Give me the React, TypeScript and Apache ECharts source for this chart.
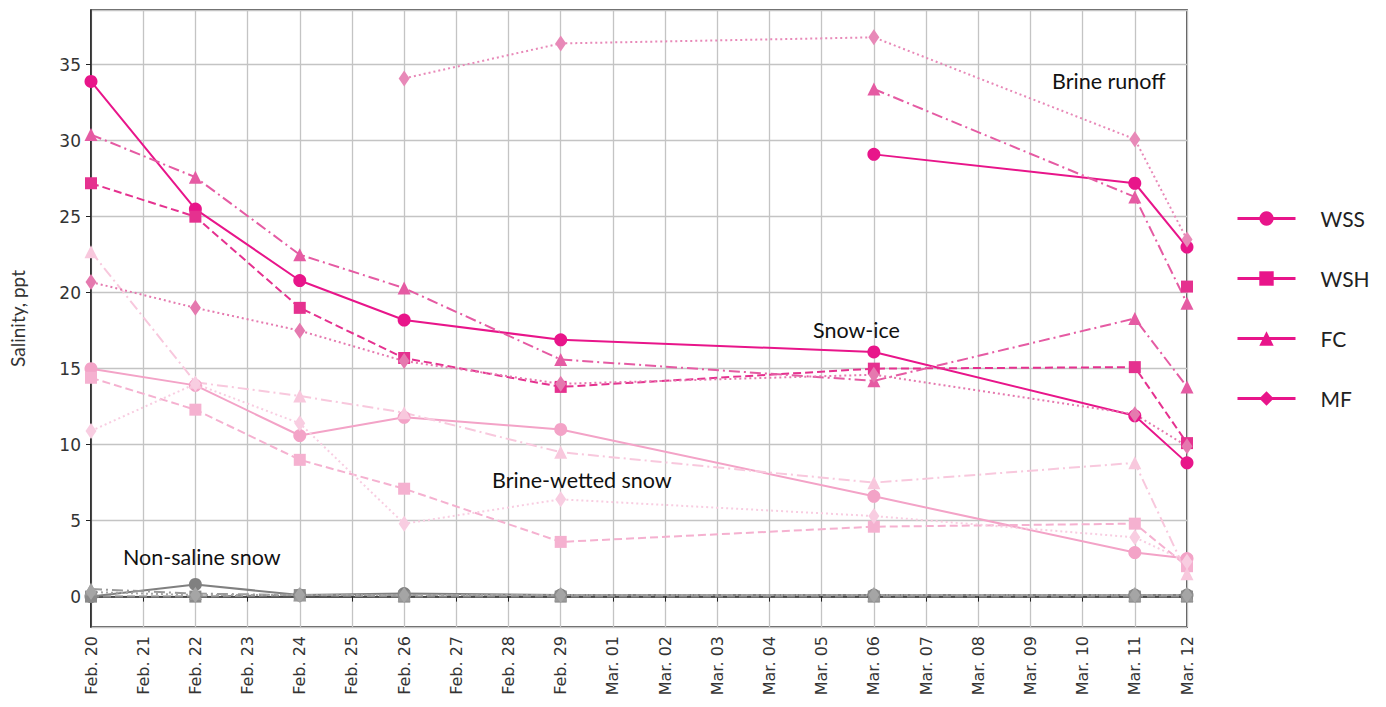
import React, { useEffect, useRef } from "react";
import * as echarts from "echarts";

const dayLabels = [
  "Feb. 20", "Feb. 21", "Feb. 22", "Feb. 23", "Feb. 24", "Feb. 25", "Feb. 26", "Feb. 27",
  "Feb. 28", "Feb. 29", "Mar. 01", "Mar. 02", "Mar. 03", "Mar. 04", "Mar. 05", "Mar. 06",
  "Mar. 07", "Mar. 08", "Mar. 09", "Mar. 10", "Mar. 11", "Mar. 12",
];
const sampleDates = ["Feb. 20", "Feb. 22", "Feb. 24", "Feb. 26", "Feb. 29", "Mar. 06", "Mar. 11", "Mar. 12"];

// Snow-ice
const siWSS = [33.9, 25.5, 20.8, 18.2, 16.9, 16.1, 11.9, 8.8];
const siWSH = [27.2, 25.0, 19.0, 15.7, 13.8, 15.0, 15.1, 10.1];
const siFC = [30.4, 27.6, 22.5, 20.3, 15.6, 14.2, 18.3, 13.8];
const siMF = [20.7, 19.0, 17.5, 15.5, 14.0, 14.6, 12.0, 9.9];

// Brine runoff
const brWSSDates = ["Mar. 06", "Mar. 11", "Mar. 12"];
const brWSS = [29.1, 27.2, 23.0];
const brWSHDates = ["Mar. 12"];
const brWSH = [20.4];
const brFCDates = ["Mar. 06", "Mar. 11", "Mar. 12"];
const brFC = [33.4, 26.3, 19.3];
const brMFDates = ["Feb. 26", "Feb. 29", "Mar. 06", "Mar. 11", "Mar. 12"];
const brMF = [34.1, 36.4, 36.8, 30.1, 23.5];

// Brine-wetted snow
const bwWSS = [15.0, 13.9, 10.6, 11.8, 11.0, 6.6, 2.9, 2.5];
const bwWSH = [14.4, 12.3, 9.0, 7.1, 3.6, 4.6, 4.8, 2.0];
const bwFC = [22.7, 14.1, 13.2, 12.1, 9.5, 7.5, 8.8, 1.5];
const bwMF = [10.9, 14.0, 11.4, 4.8, 6.4, 5.3, 3.9, 2.3];

// Non-saline snow
const nsWSS = [0.0, 0.8, 0.1, 0.2, 0.1, 0.1, 0.1, 0.1];
const nsWSH = [0.0, 0.0, 0.1, 0.0, 0.0, 0.0, 0.0, 0.0];
const nsFC = [0.5, 0.2, 0.1, 0.1, 0.1, 0.1, 0.1, 0.1];
const nsMF = [0.3, 0.1, 0.1, 0.1, 0.1, 0.1, 0.1, 0.1];

const legendNames = ["WSS", "WSH", "FC", "MF"];

const STYLE: Record<string, { symbol: string; size: number | number[]; dash: any }> = {
  WSS: { symbol: "circle", size: 13, dash: "solid" },
  WSH: { symbol: "rect", size: 12, dash: [8, 4] },
  FC: { symbol: "triangle", size: 13, dash: [11, 4, 2, 4] },
  MF: { symbol: "diamond", size: [11, 16], dash: [2, 3] },
};

function mk(name: string, kind: string, dates: string[], vals: number[], color: string, z = 2) {
  const s = STYLE[kind];
  return {
    type: "line",
    name,
    data: dates.map((d, i) => [d, vals[i]]),
    symbol: s.symbol,
    symbolSize: s.size,
    showSymbol: true,
    z,
    lineStyle: { color, width: 2, type: s.dash },
    itemStyle: { color },
    emphasis: { disabled: true },
  };
}

export default function App() {
  const ref = useRef<HTMLDivElement>(null);
  useEffect(() => {
    document.body.style.margin = "0";
    const chart = echarts.init(ref.current!, null, { renderer: "svg" });
    const mag = "#e8158a";
    const series: any[] = [
      mk("WSS (non-saline)", "WSS", sampleDates, nsWSS, "#808080", 1),
      mk("WSH (non-saline)", "WSH", sampleDates, nsWSH, "#8a8a8a", 1),
      mk("FC (non-saline)", "FC", sampleDates, nsFC, "#9a9a9a", 1),
      mk("MF (non-saline)", "MF", sampleDates, nsMF, "#a5a5a5", 1),
      mk("WSS (brine-wetted)", "WSS", sampleDates, bwWSS, "#f3a3c7"),
      mk("WSH (brine-wetted)", "WSH", sampleDates, bwWSH, "#f5b1d0"),
      mk("FC (brine-wetted)", "FC", sampleDates, bwFC, "#f8c8dd"),
      mk("MF (brine-wetted)", "MF", sampleDates, bwMF, "#f8cde1"),
      mk("WSS", "WSS", sampleDates, siWSS, mag, 3),
      mk("WSH", "WSH", sampleDates, siWSH, "#e5318f", 3),
      mk("FC", "FC", sampleDates, siFC, "#e55ba3", 3),
      mk("MF", "MF", sampleDates, siMF, "#e579af", 3),
      mk("WSS (brine runoff)", "WSS", brWSSDates, brWSS, mag, 3),
      mk("WSH (brine runoff)", "WSH", brWSHDates, brWSH, "#e5318f", 3),
      mk("FC (brine runoff)", "FC", brFCDates, brFC, "#e55ba3", 3),
      mk("MF (brine runoff)", "MF", brMFDates, brMF, "#e889b8", 3),
    ];
    const annoFont = "Lato";
    const anno = (text: string, x: number, y: number) => ({
      type: "text",
      left: x,
      top: y,
      z: 10,
      style: { text, fill: "#111", font: `21.5px ${annoFont}` },
    });
    chart.setOption({
      animation: false,
      backgroundColor: "#fff",
      grid: {
        left: 90, right: 199, top: 10, bottom: 80,
        show: true, borderColor: "#222", borderWidth: 1.5, backgroundColor: "transparent",
      },
      xAxis: {
        type: "category",
        data: dayLabels,
        boundaryGap: false,
        axisLine: { show: true, lineStyle: { color: "#222", width: 1.5 } },
        axisTick: { show: true, interval: 0, length: 5, lineStyle: { color: "#222" } },
        axisLabel: {
          interval: 0, rotate: 90, margin: 9,
          fontFamily: "DejaVu Sans", fontSize: 16, color: "#333",
        },
        splitLine: { show: true, interval: 0, lineStyle: { color: "#c4c4c4", width: 1.3 } },
      },
      yAxis: {
        type: "value",
        min: -2,
        max: 38.6,
        splitNumber: 8,
        minInterval: 5,
        maxInterval: 5,
        name: "Salinity, ppt",
        nameLocation: "middle",
        nameGap: 64,
        nameTextStyle: { fontFamily: annoFont, fontSize: 19, color: "#333" },
        axisLine: { show: true, lineStyle: { color: "#222", width: 1.5 } },
        axisTick: { show: true, length: 5, lineStyle: { color: "#222" } },
        axisLabel: {
          margin: 10,
          fontFamily: "DejaVu Sans", fontSize: 17, color: "#333",
          showMinLabel: false, showMaxLabel: false,
          formatter: (v: number) => (Math.abs(v % 5) < 1e-6 ? String(v) : ""),
        },
        splitLine: { show: true, lineStyle: { color: "#c4c4c4", width: 1.3 } },
      },
      legend: {
        orient: "vertical",
        left: 1231,
        top: 203,
        itemWidth: 58,
        itemHeight: 18,
        itemGap: 39,
        selectedMode: false,
        textStyle: { fontFamily: annoFont, fontSize: 21, color: "#222", padding: [0, 0, 0, 20] },
        data: legendNames.map((n) => ({
          name: n,
          itemStyle: { color: mag },
          lineStyle: { color: mag, type: "solid", width: 3 },
        })),
      },
      graphic: [
        anno("Brine runoff", 1052, 70),
        anno("Snow-ice", 813, 319),
        anno("Brine-wetted snow", 492, 469),
        anno("Non-saline snow", 123, 546),
      ],
      series,
    });
    return () => chart.dispose();
  }, []);
  return <div ref={ref} style={{ width: 1386, height: 707 }} />;
}
